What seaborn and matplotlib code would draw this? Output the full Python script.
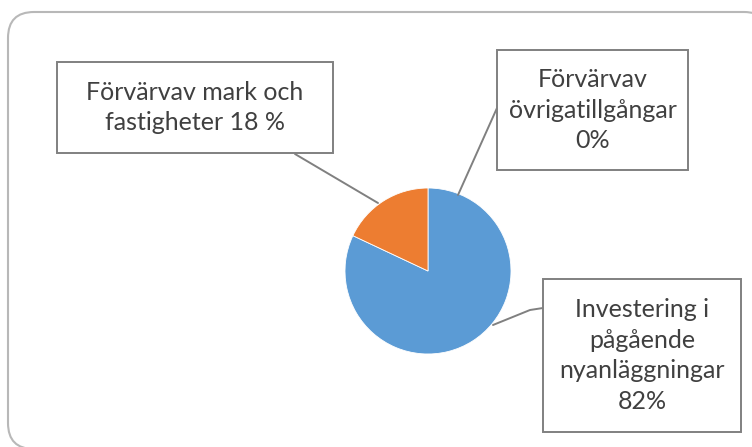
import numpy as np
import seaborn as sns
import matplotlib.pyplot as plt
from matplotlib.patches import Rectangle, FancyBboxPatch

# data (Excel order, drawn clockwise from 12 o'clock)
categories = ["Förvärv av övriga tillgångar",
              "Investering i pågående nyanläggningar",
              "Förvärv av mark och fastigheter"]
shares = [0, 82, 18]
labels = ["Förvärvav\növrigatillgångar\n0%",
          "Investering i\npågående\nnyanläggningar\n82%",
          "Förvärvav mark och\nfastigheter 18 %"]

sns.set_theme(style="white")
plt.rcParams['font.family'] = ['Lato', 'DejaVu Sans']
colors = ["#a5a5a5", "#5b9bd5", "#ed7d31"]

W, H = 752, 447
fig = plt.figure(figsize=(W / 100, H / 100), dpi=100)
ax = fig.add_axes([0, 0, 1, 1])

def py(y):
    # pixel row -> data y
    return H - y

# outer rounded frame (right and bottom edges run off the image)
frame = FancyBboxPatch((8, py(449)), 762, 437, boxstyle="round,pad=0,rounding_size=26",
                       fc="white", ec="#b8b8b8", lw=1.5, zorder=0)
ax.add_patch(frame)

ax.pie(shares, colors=colors, startangle=90, counterclock=False,
       center=(428, py(271)), radius=83, frame=True,
       wedgeprops=dict(edgecolor="white", linewidth=0.6))
ax.set_xlim(0, W)
ax.set_ylim(0, H)
ax.set_aspect("equal")
ax.axis("off")

# label boxes: (left, top, right, bottom) in pixels, and leader lines
boxes = [(497, 50, 688, 170), (543, 279, 741, 432), (57, 62, 333, 153)]
leaders = [[(497, 108), (458, 195)],
           [(543, 308), (530, 310), (493, 325)],
           [(295, 154), (378, 203)]]

for (l, t, r, b), lab, pts in zip(boxes, labels, leaders):
    ax.add_patch(Rectangle((l, py(b)), r - l, b - t, fc="white",
                           ec="#808080", lw=1.4, zorder=3))
    ax.text((l + r) / 2, py((t + b) / 2), lab, ha="center", va="center",
            fontsize=18, color="#404040", linespacing=1.42, zorder=4)
    xs = [p[0] for p in pts]
    ys = [py(p[1]) for p in pts]
    ax.plot(xs, ys, color="#808080", lw=1.4, zorder=2)

fig.savefig("out.png", dpi=100)
